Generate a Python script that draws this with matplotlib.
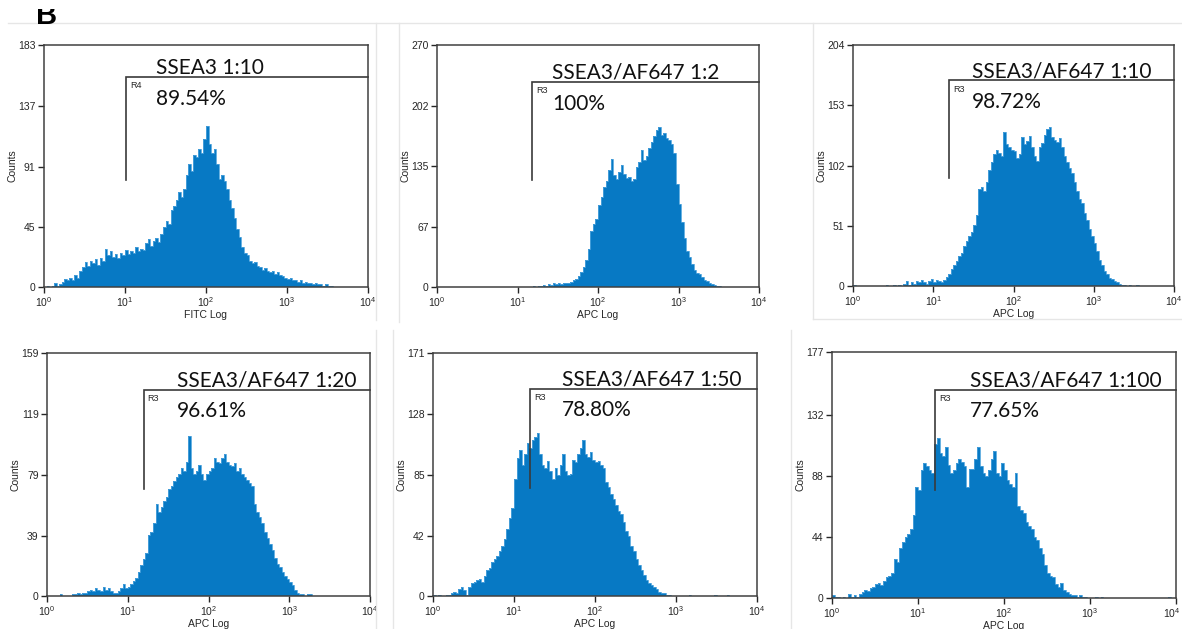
"""
Flow cytometry titration of the SSEA3 antibody: six single-parameter
histograms (counts vs log fluorescence) with the R3/R4 positive gate drawn on.
"""

import numpy as np
import matplotlib

matplotlib.use("Agg")
import matplotlib.pyplot as plt
from matplotlib.transforms import Bbox, TransformedBbox, ScaledTranslation

BLUE = "#0779c4"
EDGE = "#4ea3dc"
INK = "#262626"
FRAME = "#e6e6e6"

plt.rcParams.update({
    "font.family": "Liberation Sans",
    "mathtext.default": "regular",
    "axes.edgecolor": "#404040",
    "axes.linewidth": 1.1,
    "xtick.color": INK, "ytick.color": INK,
    "xtick.labelcolor": INK, "ytick.labelcolor": INK,
})

# ── histogram data: 32 channels per decade, 10^0 .. 10^4 (128 channels) ──
BINS_PER_DECADE = 32

SSEA3_FITC_1_10 = [
    0, 1, 0, 1, 3, 1, 2, 4, 6, 5, 7, 5, 9, 7, 12, 15,
    19, 16, 20, 18, 21, 17, 22, 20, 29, 24, 27, 23, 25, 22, 26, 24,
    28, 25, 27, 26, 30, 27, 29, 28, 33, 36, 31, 35, 37, 34, 40, 45,
    50, 48, 58, 61, 66, 72, 68, 74, 85, 93, 88, 100, 98, 104, 101, 112,
    122, 108, 101, 104, 93, 82, 85, 80, 74, 66, 60, 52, 44, 38, 30, 26,
    24, 20, 18, 19, 16, 15, 13, 14, 12, 11, 12, 10, 11, 9, 8, 7,
    6, 7, 5, 5, 4, 5, 3, 4, 3, 3, 2, 3, 2, 2, 1, 2,
    1, 1, 0, 0, 0, 0, 0, 0, 0, 0, 0, 0, 0, 0, 0, 0,
]

AF647_1_2 = [
    0, 0, 0, 0, 0, 0, 0, 0, 0, 0, 0, 0, 0, 0, 0, 0,
    0, 0, 0, 0, 0, 0, 0, 0, 0, 0, 0, 0, 0, 0, 0, 0,
    0, 0, 0, 0, 0, 0, 1, 0, 1, 1, 2, 1, 3, 2, 4, 3,
    4, 3, 5, 4, 5, 6, 8, 9, 12, 17, 22, 30, 42, 62, 70, 76,
    92, 100, 112, 118, 130, 143, 125, 121, 128, 136, 126, 122, 123, 118, 121, 134,
    140, 153, 142, 146, 155, 162, 168, 175, 179, 170, 172, 166, 164, 160, 150, 115,
    93, 72, 55, 40, 34, 26, 19, 16, 14, 11, 8, 7, 5, 3, 2, 1,
    1, 0, 0, 0, 0, 0, 0, 0, 0, 0, 0, 0, 0, 0, 0, 0,
]

AF647_1_10 = [
    1, 0, 0, 0, 0, 0, 0, 0, 0, 0, 0, 0, 0, 1, 0, 0,
    1, 0, 1, 0, 2, 4, 1, 3, 2, 4, 3, 5, 3, 2, 4, 6,
    3, 5, 4, 3, 5, 8, 10, 14, 18, 21, 25, 28, 34, 38, 42, 46,
    52, 60, 82, 84, 80, 88, 98, 105, 112, 115, 113, 110, 130, 120, 118, 115,
    114, 108, 112, 126, 120, 123, 127, 118, 110, 106, 118, 121, 128, 133, 135, 126,
    124, 122, 125, 118, 110, 105, 100, 96, 88, 80, 74, 70, 62, 56, 48, 42,
    36, 30, 22, 18, 13, 10, 7, 6, 4, 3, 2, 1, 1, 0, 1, 0,
    0, 1, 0, 0, 0, 0, 0, 0, 0, 0, 0, 0, 0, 0, 0, 0,
]

AF647_1_20 = [
    0, 0, 0, 0, 0, 1, 0, 0, 0, 0, 1, 1, 2, 1, 2, 2,
    3, 4, 3, 5, 4, 3, 6, 4, 5, 3, 2, 2, 3, 5, 8, 5,
    6, 8, 10, 12, 16, 20, 24, 28, 40, 42, 48, 60, 55, 58, 62, 65,
    70, 72, 75, 78, 80, 84, 82, 88, 105, 84, 80, 82, 86, 80, 76, 80,
    82, 84, 90, 88, 87, 90, 93, 88, 86, 85, 87, 82, 84, 80, 78, 76,
    74, 72, 60, 55, 52, 48, 42, 38, 34, 30, 25, 21, 19, 16, 13, 11,
    9, 7, 4, 2, 1, 1, 0, 1, 1, 0, 0, 0, 0, 0, 0, 0,
    0, 0, 0, 0, 0, 0, 0, 0, 0, 0, 0, 0, 0, 0, 0, 0,
]

AF647_1_50 = [
    1, 0, 1, 0, 0, 1, 1, 2, 3, 2, 5, 6, 4, 1, 6, 9,
    10, 11, 12, 10, 14, 18, 20, 24, 26, 28, 32, 35, 40, 47, 55, 62,
    82, 97, 103, 92, 100, 108, 104, 110, 112, 115, 100, 92, 90, 95, 88, 82,
    90, 85, 92, 100, 88, 85, 86, 96, 94, 100, 104, 110, 100, 98, 101, 96,
    94, 95, 92, 90, 80, 77, 72, 68, 64, 60, 58, 52, 46, 42, 35, 32,
    26, 22, 18, 15, 11, 9, 8, 6, 5, 3, 2, 2, 1, 1, 0, 0,
    0, 0, 0, 0, 0, 1, 0, 0, 0, 0, 0, 0, 0, 0, 0, 1,
    0, 0, 0, 0, 1, 0, 0, 0, 0, 0, 0, 0, 0, 0, 0, 0,
]

AF647_1_100 = [
    2, 1, 1, 0, 1, 0, 3, 1, 2, 1, 3, 4, 6, 5, 7, 8,
    10, 11, 9, 12, 15, 16, 18, 28, 26, 36, 40, 44, 46, 50, 60, 80,
    78, 92, 97, 95, 92, 90, 111, 115, 104, 102, 109, 96, 90, 92, 97, 100,
    98, 95, 80, 93, 93, 100, 109, 95, 90, 88, 92, 100, 106, 90, 88, 97,
    92, 85, 82, 80, 90, 66, 63, 61, 55, 52, 50, 44, 42, 36, 32, 24,
    18, 16, 15, 10, 8, 11, 6, 4, 3, 2, 2, 1, 2, 1, 1, 0,
    0, 0, 1, 0, 1, 0, 0, 0, 0, 0, 0, 0, 0, 0, 0, 0,
    0, 0, 0, 0, 0, 0, 0, 0, 0, 0, 0, 0, 0, 1, 0, 0,
]

HISTS = [SSEA3_FITC_1_10, AF647_1_2, AF647_1_10, AF647_1_20, AF647_1_50, AF647_1_100]
TITLES = ["SSEA3 1:10", "SSEA3/AF647 1:2", "SSEA3/AF647 1:10",
          "SSEA3/AF647 1:20", "SSEA3/AF647 1:50", "SSEA3/AF647 1:100"]
PERCENTS = ["89.54%", "100%", "98.72%", "96.61%", "78.80%", "77.65%"]
GATE_NAMES = ["R4", "R3", "R3", "R3", "R3", "R3"]
XLABELS = ["FITC Log", "APC Log", "APC Log", "APC Log", "APC Log", "APC Log"]
YMAX = [183, 270, 204, 159, 171, 177]
YTICKS = [
    [0, 45, 91, 137, 183],
    [0, 67, 135, 202, 270],
    [0, 51, 102, 153, 204],
    [0, 39, 79, 119, 159],
    [0, 42, 85, 128, 171],
    [0, 44, 88, 132, 177],
]
# gate: left edge (fluorescence), bottom and top of the marker (counts)
GATE_X = [10.4, 15.3, 15.6, 15.7, 15.6, 15.8]
GATE_Y0 = [81, 119, 91, 70, 76, 78]
GATE_Y1 = [159, 229, 174, 135, 146, 150]

# ── layout (pixels on the 1182x629 canvas) ──────────────────────────
W, H = 1182, 629
AXES_PX = [  # left, right, top, bottom
    (44, 368, 45, 287),
    (437, 759, 45, 287),
    (853, 1174, 45, 286),
    (47, 370, 353, 596),
    (433, 757, 353, 596),
    (832, 1176, 352, 598),
]
TEXT_DX = [30, 20, 23, 33, 32, 35]  # px from gate edge to the label text
# faint outlines of the pasted panels: (x0, y0, x1, y1) line segments
FRAME_LINES = [
    (8, 23, 1182, 23), (376, 23, 376, 320), (399, 23, 399, 322),
    (813, 23, 813, 319), (813, 319, 1182, 319),
    (376, 330, 376, 629), (393, 330, 393, 629), (791, 330, 791, 629),
]


def _px(x, y):
    return x / W, 1 - y / H


def draw_panel(fig, k):
    l, r, t, b = AXES_PX[k]
    ax = fig.add_axes([l / W, 1 - b / H, (r - l) / W, (b - t) / H])
    counts = np.asarray(HISTS[k], dtype=float)
    edges = 10 ** (np.arange(len(counts) + 1) / BINS_PER_DECADE)
    ax.stairs(counts, edges, fill=True, color=BLUE, zorder=2)
    ax.stairs(counts, edges, color=EDGE, lw=0.6, zorder=2)

    ax.set_xscale("log")
    ax.set_xlim(1, 1e4)
    ax.set_ylim(0, YMAX[k])
    ax.set_xticks([1, 10, 100, 1000, 10000])
    ax.set_xticklabels([rf"$\mathregular{{10^{{{p}}}}}$" for p in range(5)])
    ax.xaxis.set_minor_locator(matplotlib.ticker.NullLocator())
    ax.set_yticks(YTICKS[k])
    ax.set_yticklabels([str(v) for v in YTICKS[k]])
    ax.tick_params(length=4.5, width=1.0, labelsize=7.5, pad=1.5)
    ax.set_xlabel(XLABELS[k], fontsize=7.5, color=INK, labelpad=0.5)
    ax.set_ylabel("Counts", fontsize=7.5, color=INK, labelpad=0.5)

    # positive gate marker
    gx, y0, y1 = GATE_X[k], GATE_Y0[k], GATE_Y1[k]
    ax.plot([gx, gx, 1e4], [y0, y1, y1], color="#3a3a3a", lw=1.2,
            solid_joinstyle="miter", zorder=3, clip_on=False)
    ax.annotate(GATE_NAMES[k], (gx, y1), xytext=(3, -3), textcoords="offset points",
                ha="left", va="top", fontsize=6.5, color=INK)
    dx = TEXT_DX[k] * 72 / 100
    ax.annotate(TITLES[k], (gx, y1), xytext=(dx, -0.8), textcoords="offset points",
                ha="left", va="bottom", fontsize=15, family="Lato", color="#111111")
    ax.annotate(PERCENTS[k], (gx, y1), xytext=(dx, -8.5), textcoords="offset points",
                ha="left", va="top", fontsize=15, family="Lato", color="#111111")
    return ax


def main():
    fig = plt.figure(figsize=(W / 100, H / 100), dpi=100)
    for x0, y0, x1, y1 in FRAME_LINES:
        (fx0, fy0), (fx1, fy1) = _px(x0, y0), _px(x1, y1)
        fig.add_artist(plt.Line2D([fx0, fx1], [fy0, fy1], color=FRAME, lw=1.0,
                                  transform=fig.transFigure))
    axes = [draw_panel(fig, k) for k in range(len(HISTS))]

    # last decade label of the far-right panel sits against the canvas edge
    edge_label = axes[-1].get_xticklabels()[-1]
    edge_label.set_horizontalalignment("right")
    edge_label.set_transform(edge_label.get_transform()
                             + ScaledTranslation(5 / 100, 0, fig.dpi_scale_trans))

    # panel letter, its top cut off
    letter = fig.text(*_px(36, 24), "B", fontsize=21, fontweight="bold",
                      ha="left", va="baseline", color="black")
    letter.set_clip_box(TransformedBbox(Bbox([[0, 1 - 25 / H], [0.2, 1 - 9 / H]]),
                                        fig.transFigure))
    letter.set_clip_on(True)

    fig.savefig("out.png", dpi=100)
    plt.close(fig)


if __name__ == "__main__":
    main()
